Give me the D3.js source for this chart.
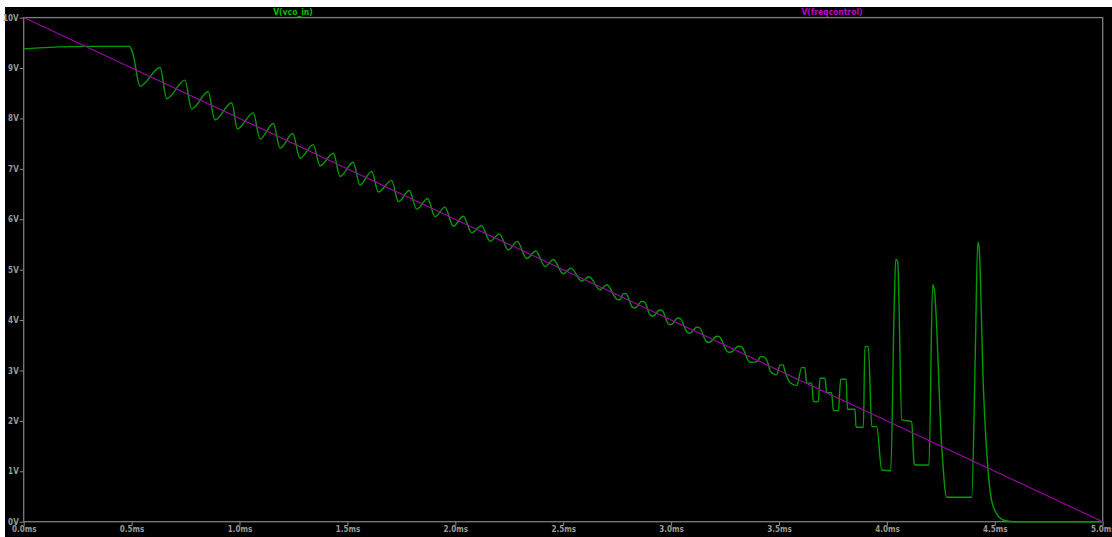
<!DOCTYPE html>
<html>
<head>
<meta charset="utf-8">
<script src="https://cdn.jsdelivr.net/npm/d3@7"></script>
<style>
	html, body { margin: 0; padding: 0; background: #fff; }
	svg { display: block; }
	.tick text { font-family: "Liberation Sans Narrow", "DejaVu Sans Condensed", Arial, sans-serif; font-weight: bold; font-size: 8px; fill: #9a9a9a; }
</style>
</head>
<body>
<div id="chart"></div>
<script>
const width = 1112
const height = 537

// time in ms, voltages in V
const xTicks = [0, 0.5, 1, 1.5, 2, 2.5, 3, 3.5, 4, 4.5, 5]
const yTicks = [0, 1, 2, 3, 4, 5, 6, 7, 8, 9, 10]

const traceNames = ["V(vco_in)", "V(freqcontrol)"]

const freqT = [0, 5]
const freqV = [10, 0]

const vcoT = [
	0, 0.12, 0.275, 0.49, 0.505, 0.539, 0.632, 0.663, 0.747, 0.778, 0.855, 0.886, 0.964, 0.99, 1.064, 1.095,
	1.157, 1.188, 1.247, 1.28, 1.342, 1.373, 1.435, 1.466, 1.527, 1.558, 1.613, 1.643, 1.705, 1.736, 1.787, 1.821,
	1.872, 1.906, 1.952, 1.991, 2.037, 2.076, 2.122, 2.161, 2.204, 2.246, 2.287, 2.331, 2.373, 2.416, 2.454, 2.5,
	2.536, 2.586, 2.62, 2.671, 2.702, 2.75, 2.762, 2.78, 2.792, 2.822, 2.834, 2.864, 2.876, 2.905, 2.917, 2.947,
	2.959, 2.988, 3.0, 3.031, 3.043, 3.076, 3.088, 3.119, 3.131, 3.165, 3.177, 3.212, 3.224, 3.262, 3.274, 3.314,
	3.326, 3.363, 3.375, 3.4, 3.415, 3.43, 3.449, 3.458, 3.489, 3.505, 3.519, 3.528, 3.551, 3.582, 3.605,
	3.62, 3.628, 3.652, 3.659, 3.682, 3.69, 3.713, 3.721, 3.744, 3.752, 3.775, 3.786, 3.811, 3.817, 3.852, 3.857,
	3.891, 3.898, 3.914, 3.93, 3.953, 3.976, 4.018, 4.033, 4.041, 4.05, 4.069, 4.115, 4.126, 4.13, 4.195, 4.212,
	4.22, 4.254, 4.277, 4.393, 4.409, 4.421, 4.427, 4.447, 4.47, 4.493, 4.539, 4.586, 5
]
const vcoV = [
	9.38, 9.41, 9.43, 9.43, 9.3, 8.64, 9.01, 8.39, 8.76, 8.19, 8.53, 7.97, 8.31, 7.79, 8.11, 7.59,
	7.9, 7.41, 7.7, 7.21, 7.48, 7.06, 7.31, 6.85, 7.13, 6.68, 6.95, 6.54, 6.77, 6.35, 6.57, 6.2,
	6.41, 6.05, 6.24, 5.86, 6.06, 5.73, 5.87, 5.56, 5.71, 5.39, 5.56, 5.22, 5.37, 5.06, 5.2, 4.92,
	5.03, 4.77, 4.86, 4.6, 4.7, 4.41, 4.4, 4.53, 4.52, 4.25, 4.24, 4.37, 4.36, 4.09, 4.08, 4.2,
	4.19, 3.92, 3.91, 4.04, 4.03, 3.75, 3.74, 3.86, 3.85, 3.57, 3.56, 3.68, 3.67, 3.37, 3.36, 3.48,
	3.47, 3.17, 3.16, 3.18, 3.28, 3.27, 3.145, 2.998, 2.912, 3.111, 3.111, 2.978, 2.76, 2.7, 3.057,
	3.057, 2.748, 2.748, 2.382, 2.382, 2.847, 2.847, 2.561, 2.561, 2.204, 2.204, 2.827, 2.827, 2.232, 2.232, 1.874,
	1.874, 3.474, 3.474, 1.886, 1.886, 1.026, 1.012, 4.137, 5.209, 5.156, 2.019, 1.985, 1.159, 1.126, 1.126, 4.699,
	4.6, 1.489, 0.484, 0.484, 3.2, 5.547, 5.45, 2.68, 0.961, 0.298, 0.034, 0, 0
]

const x = d3.scaleLinear().domain([0, 5]).range([23.7, 1102.7])
const y = d3.scaleLinear().domain([0, 10]).range([521.7, 17.6])

const svg = d3.select("#chart").append("svg").attr("width", width).attr("height", height)

// black canvas, small white margin top/left like the screenshot
svg.append("rect").attr("x", 5).attr("y", 7).attr("width", width - 5).attr("height", height - 7).attr("fill", "#000")

// trace names above the plot
svg.append("text")
	.attr("x", 293)
	.attr("y", 15)
	.attr("text-anchor", "middle")
	.attr("font-family", "Liberation Sans Narrow, DejaVu Sans Condensed, Arial, sans-serif")
	.attr("font-weight", "bold")
	.attr("font-size", 8.5)
	.attr("fill", "#00c000")
	.text(traceNames[0])

svg.append("text")
	.attr("x", 832)
	.attr("y", 15)
	.attr("text-anchor", "middle")
	.attr("font-family", "Liberation Sans Narrow, DejaVu Sans Condensed, Arial, sans-serif")
	.attr("font-weight", "bold")
	.attr("font-size", 8.5)
	.attr("fill", "#c000c0")
	.text(traceNames[1])

const gx = svg.append("g")
	.attr("transform", `translate(0,${y(0)})`)
	.call(d3.axisBottom(x).tickValues(xTicks).tickSize(4).tickPadding(1).tickFormat(d => `${d.toFixed(1)}ms`))
gx.select(".domain").remove()
gx.selectAll(".tick line").attr("stroke", "#8a8a8a")

const gy = svg.append("g")
	.attr("transform", `translate(${x(0)},0)`)
	.call(d3.axisLeft(y).tickValues(yTicks).tickSize(4).tickPadding(1).tickFormat(d => `${d}V`))
gy.select(".domain").remove()
gy.selectAll(".tick line").attr("stroke", "#8a8a8a")

// plot frame
svg.append("rect")
	.attr("x", x(0))
	.attr("y", y(10))
	.attr("width", x(5) - x(0))
	.attr("height", y(0) - y(10))
	.attr("fill", "none")
	.attr("stroke", "#7c7c7c")
	.attr("stroke-width", 1.3)

const vcoData = vcoT.map((t, i) => [t, vcoV[i]])
const freqData = freqT.map((t, i) => [t, freqV[i]])

svg.append("path")
	.datum(vcoData)
	.attr("fill", "none")
	.attr("stroke", "#009c00")
	.attr("stroke-width", 1.4)
	.attr("d", d3.line().curve(d3.curveMonotoneX).x(d => x(d[0])).y(d => y(d[1])))

svg.append("path")
	.datum(freqData)
	.attr("fill", "none")
	.attr("stroke", "#a000a8")
	.attr("stroke-width", 1.1)
	.attr("d", d3.line().x(d => x(d[0])).y(d => y(d[1])))
</script>
</body>
</html>
